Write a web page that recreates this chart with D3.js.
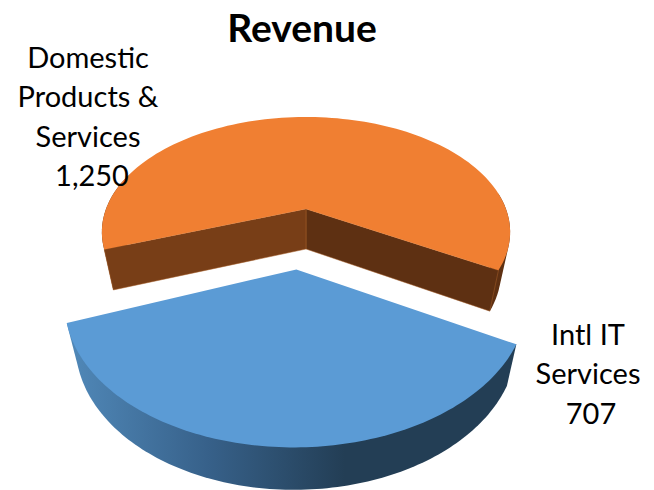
<!DOCTYPE html>
<html>
<head>
<meta charset="utf-8">
<script src="https://cdnjs.cloudflare.com/ajax/libs/d3/7.8.5/d3.min.js"></script>
<style>
html,body{margin:0;padding:0;background:#fff}
svg{display:block}
text{font-family:Lato,"Open Sans",sans-serif;fill:#000}
</style>
</head>
<body>
<svg id="c" width="654" height="490"></svg>
<script>
const chartTitle = "Revenue";
const categories = ["Intl IT Services", "Domestic Products & Services"];
const values = [707, 1250];
const labelLines = [["Intl IT", "Services"], ["Domestic", "Products &", "Services"]];
const topColors = ["#5b9bd5", "#f07f32"];
const startWallColor = "#783e17";
const endWallColor = "#5e3012";

const svg = d3.select("#c");
const defs = svg.append("defs");
const grad = defs.append("linearGradient").attr("id", "blueSide")
  .attr("gradientUnits", "userSpaceOnUse").attr("x1", 70).attr("x2", 345).attr("y1", 0).attr("y2", 0);
grad.append("stop").attr("offset", 0).attr("stop-color", "#5088b8");
grad.append("stop").attr("offset", 0.5).attr("stop-color", "#37618a");
grad.append("stop").attr("offset", 1).attr("stop-color", "#233e55");

// perspective projection of the tilted disc
const view = {cx: 306, cy: 209, rx: 200, ry: 110.4, p: 0.2, h: 40, hSlope: 1.6, shrink: 0.955};
function project(u, v, z) {
  const k = 1 / (1 - view.p * v);
  const x = view.rx * u * k;
  const y = view.ry * v * k;
  const s = z ? view.shrink : 1;
  const dz = z ? view.h + view.hSlope * v : 0;
  return [view.cx + x * s, view.cy + y + dz];
}

const arcs = d3.pie().sort(null).value(d => d).startAngle(Math.PI * 120 / 180).endAngle(Math.PI * 480 / 180)(values);
const explode = [0.495, 0];
const radius = [1.015, 1];
const turn = [-0.018, 0];
const line = d3.line().curve(d3.curveLinear);

arcs.map((a, i) => ({a, i})).reverse().forEach(({a, i}) => {
  const mid = (a.startAngle + a.endAngle) / 2;
  const ou = Math.sin(mid) * explode[i], ov = -Math.cos(mid) * explode[i];
  const pt = (t, r, z) => project(ou + Math.sin(t + turn[i]) * r, ov - Math.cos(t + turn[i]) * r, z);
  const R = radius[i];
  const ts = d3.range(0, 121).map(j => a.startAngle + (a.endAngle - a.startAngle) * j / 120);
  const g = svg.append("g");

  if (i === 0) {
    const pts = ts.map(t => pt(t, R, false)).concat(ts.map(t => pt(t, R, true)));
    g.append("path").attr("d", line(d3.polygonHull(pts)) + "Z").attr("fill", "url(#blueSide)");
  } else {
    const span = Math.PI * 40 / 180;
    [ts.filter(t => t <= a.startAngle + span), ts.filter(t => t >= a.endAngle - span)].forEach(sub => {
      const pts = sub.map(t => pt(t, R, false)).concat(sub.map(t => pt(t, R, true)));
      g.append("path").attr("d", line(d3.polygonHull(pts)) + "Z").attr("fill", endWallColor);
    });
    // inner walls: the slice's start edge is the left, lighter wall
    [[a.endAngle, endWallColor], [a.startAngle, startWallColor]].forEach(([t, colour]) => {
      const quad = [pt(t, 0, false), pt(t, R, false), pt(t, R, true), pt(t, 0, true)];
      g.append("path").attr("d", line(quad) + "Z").attr("fill", colour)
        .attr("stroke", "#a8602a").attr("stroke-width", 0.5);
    });
  }
  const face = [pt(0, 0, false)].concat(ts.map(t => pt(t, R, false)));
  g.append("path").attr("d", line(face) + "Z").attr("fill", topColors[i]);
});

svg.append("text").attr("x", 302).attr("y", 42).attr("text-anchor", "middle")
  .attr("font-size", 39).attr("font-weight", 700).text(chartTitle);

const labelPos = [{x: 588, y: 345, last: 591}, {x: 88, y: 68, last: 92}];
const lh = 39.4;
labelLines.forEach((lines, i) => {
  const t = svg.append("text").attr("font-size", 29).attr("text-anchor", "middle");
  lines.forEach((l, j) => t.append("tspan").attr("x", labelPos[i].x).attr("y", labelPos[i].y + j * lh).text(l));
  t.append("tspan").attr("x", labelPos[i].last).attr("y", labelPos[i].y + lines.length * lh).text(d3.format(",")(values[i]));
});
</script>
</body>
</html>
